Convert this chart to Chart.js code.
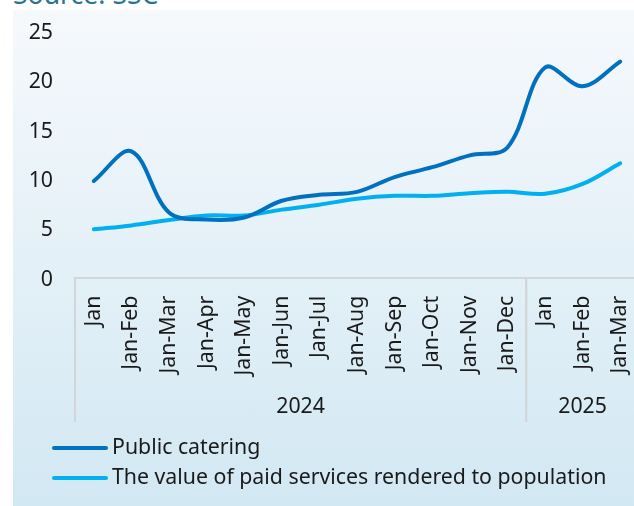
<!DOCTYPE html>
<html lang="en">
<head>
  <meta charset="UTF-8">
  <script src="https://cdn.jsdelivr.net/npm/chart.js"></script>
  <title>Public catering and paid services</title>
  <style>
    html, body { margin: 0; padding: 0; background: #fff; width: 634px; height: 506px; overflow: hidden; }
    .source { position: absolute; left: 13px; top: -19px; font: 26.6px/26px "Noto Sans"; color: #2a7394; white-space: nowrap; }
    .panel { position: absolute; left: 13px; top: 10px; width: 627px; height: 496px;
             background: linear-gradient(to bottom, #f6f9fc, #d2e8f3); }
    canvas { position: absolute; left: 0; top: 0; }
  </style>
</head>
<body>
  <div class="source">Source: SSC</div>
  <div class="panel"><canvas id="chart" width="627" height="496"></canvas></div>

  <script>
    // cumulative periods, grouped by year
    const months = ["Jan", "Jan-Feb", "Jan-Mar", "Jan-Apr", "Jan-May", "Jan-Jun", "Jan-Jul", "Jan-Aug",
                    "Jan-Sep", "Jan-Oct", "Jan-Nov", "Jan-Dec", "Jan", "Jan-Feb", "Jan-Mar"];
    const years = ["2024", "2025"];
    const yearSpans = [12, 3];

    const seriesNames = ["Public catering", "The value of paid services rendered to population"];
    const catering = [9.8, 12.8, 6.6, 5.9, 6.1, 7.8, 8.4, 8.7, 10.2, 11.2, 12.4, 13.2, 21.3, 19.4, 21.9];
    const paidServices = [4.9, 5.3, 5.85, 6.3, 6.3, 6.9, 7.4, 8.0, 8.3, 8.3, 8.55, 8.7, 8.5, 9.5, 11.6];

    const yTicks = [0, 5, 10, 15, 20, 25];

    const colors = ["#0070c0", "#00b0f0"];
    const textColor = "#1a1a1a";
    const lineGrey = "#d3d6d9";
    const fontSize = 21.3;

    Chart.defaults.font.family = '"Noto Sans"';
    Chart.defaults.font.size = fontSize;
    Chart.defaults.color = textColor;

    // year captions under the month labels, with separators between groups
    const yearGroups = {
      id: "yearGroups",
      afterDraw(chart) {
        const { ctx, chartArea, scales: { x } } = chart;
        const half = (x.getPixelForValue(1) - x.getPixelForValue(0)) / 2;
        const lineBottom = 412;
        ctx.save();
        ctx.strokeStyle = lineGrey;
        ctx.lineWidth = 2;
        ctx.fillStyle = textColor;
        ctx.font = fontSize + 'px "Noto Sans"';
        ctx.textAlign = "center";
        ctx.textBaseline = "middle";
        let start = 0;
        years.forEach((yr, i) => {
          const end = start + yearSpans[i] - 1;
          const left = x.getPixelForValue(start) - half;
          const right = x.getPixelForValue(end) + half;
          [left, right].forEach(px => {
            ctx.beginPath();
            ctx.moveTo(px, chartArea.bottom);
            ctx.lineTo(px, lineBottom);
            ctx.stroke();
          });
          ctx.fillText(yr, (left + right) / 2, 397);
          start = end + 1;
        });
        ctx.restore();
      }
    };

    // stacked legend, left aligned under the axis
    const stackedLegend = {
      id: "stackedLegend",
      afterDraw(chart) {
        const { ctx } = chart;
        ctx.save();
        ctx.font = fontSize + 'px "Noto Sans"';
        ctx.textBaseline = "middle";
        ctx.textAlign = "left";
        ctx.lineCap = "round";
        chart.data.datasets.forEach((ds, i) => {
          const y = 438 + i * 30;
          ctx.strokeStyle = ds.borderColor;
          ctx.lineWidth = 4;
          ctx.beginPath();
          ctx.moveTo(41, y);
          ctx.lineTo(93, y);
          ctx.stroke();
          ctx.fillStyle = textColor;
          ctx.fillText(ds.label, 99, y);
        });
        ctx.restore();
      }
    };

    new Chart(document.getElementById("chart"), {
      type: "line",
      data: {
        labels: months,
        datasets: [
          { label: seriesNames[0], data: catering, borderColor: colors[0], backgroundColor: colors[0] },
          { label: seriesNames[1], data: paidServices, borderColor: colors[1], backgroundColor: colors[1] }
        ]
      },
      options: {
        responsive: false,
        animation: false,
        layout: { padding: { top: 21, right: 1, bottom: 0, left: 0 } },
        elements: {
          line: { borderWidth: 4, tension: 0.35, borderCapStyle: "round", fill: false },
          point: { radius: 0, hoverRadius: 0 }
        },
        plugins: { legend: { display: false }, tooltip: { enabled: false } },
        scales: {
          x: {
            offset: true,
            grid: { display: false, drawTicks: false },
            border: { display: true, color: lineGrey, width: 2 },
            ticks: { autoSkip: false, minRotation: 90, maxRotation: 90, padding: 18 },
            afterFit(scale) {
              scale.height = 228.3;
              scale.paddingRight = 0;
            }
          },
          y: {
            min: 0,
            max: 25,
            afterBuildTicks(scale) { scale.ticks = yTicks.map(v => ({ value: v })); },
            grid: { display: false, drawTicks: false },
            border: { display: false },
            ticks: { padding: 22, labelOffset: 2 },
            afterFit(scale) {
              scale.width = 62;
              scale.paddingTop = 0;
              scale.paddingBottom = 0;
            }
          }
        }
      },
      plugins: [yearGroups, stackedLegend]
    });
  </script>
</body>
</html>
